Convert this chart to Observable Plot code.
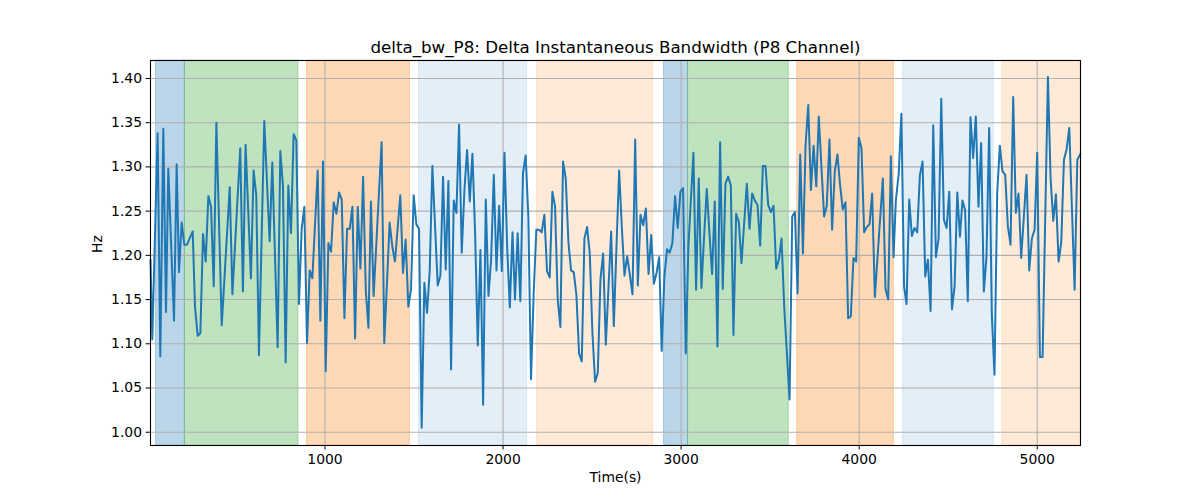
<!DOCTYPE html>
<html>
<head>
<meta charset="utf-8">
<script src="https://cdn.jsdelivr.net/npm/d3@7"></script>
<script src="https://cdn.jsdelivr.net/npm/@observablehq/plot@0.6"></script>
<style>
  body { margin: 0; background: white; }
</style>
</head>
<body>
<div id="chart"></div>
<script>
// ---------- data ----------
const times = [
  20, 30, 60, 75, 92, 107, 120, 152, 167, 180, 195, 210, 225, 257, 270, 285, 300, 315, 330, 345,
  360, 375, 390, 420, 465, 480, 524, 539, 554, 584, 599, 614, 629, 659, 689, 704, 734, 749, 764, 779,
  794, 809, 824, 839, 854, 869, 884, 899, 914, 929, 959, 974, 989, 1004, 1019, 1034, 1049, 1064, 1079, 1094,
  1109, 1124, 1139, 1154, 1169, 1184, 1199, 1214, 1229, 1244, 1258, 1273, 1318, 1333, 1363, 1378, 1393, 1423, 1438, 1453,
  1468, 1483, 1498, 1513, 1528, 1543, 1558, 1573, 1588, 1603, 1633, 1648, 1663, 1678, 1693, 1708, 1723, 1738, 1753, 1768,
  1783, 1798, 1813, 1828, 1843, 1858, 1873, 1888, 1903, 1918, 1933, 1948, 1963, 1978, 1993, 2008, 2023, 2038, 2053, 2067,
  2082, 2097, 2112, 2127, 2142, 2157, 2172, 2187, 2202, 2217, 2232, 2247, 2262, 2277, 2292, 2307, 2322, 2337, 2352, 2367,
  2382, 2397, 2412, 2427, 2442, 2457, 2472, 2487, 2502, 2517, 2532, 2547, 2562, 2577, 2607, 2622, 2637, 2652, 2667, 2682,
  2697, 2712, 2727, 2742, 2757, 2772, 2787, 2802, 2817, 2832, 2847, 2862, 2877, 2891, 2906, 2921, 2936, 2951, 2966, 2981,
  2996, 3011, 3026, 3041, 3069, 3084, 3099, 3114, 3129, 3144, 3159, 3174, 3189, 3204, 3219, 3234, 3249, 3264, 3279, 3294,
  3309, 3324, 3339, 3369, 3384, 3399, 3414, 3429, 3444, 3459, 3474, 3489, 3504, 3519, 3534, 3549, 3564, 3579, 3609, 3624,
  3639, 3654, 3669, 3684, 3699, 3714, 3729, 3744, 3759, 3773, 3803, 3818, 3833, 3848, 3863, 3878, 3893, 3908, 3923, 3938,
  3953, 3968, 3983, 3998, 4013, 4028, 4043, 4058, 4073, 4088, 4133, 4148, 4163, 4178, 4193, 4206, 4222, 4237, 4252, 4266,
  4281, 4296, 4311, 4326, 4341, 4356, 4371, 4386, 4401, 4416, 4431, 4446, 4461, 4476, 4491, 4506, 4521, 4536, 4551, 4566,
  4580, 4595, 4610, 4625, 4640, 4655, 4670, 4685, 4700, 4715, 4730, 4745, 4760, 4775, 4790, 4805, 4820, 4835, 4850, 4865,
  4880, 4895, 4910, 4940, 4955, 4970, 4985, 5000, 5015, 5030, 5060, 5075, 5090, 5105, 5120, 5135, 5150, 5165, 5180, 5210,
  5225, 5243
];
const values = [
  1.195, 1.105, 1.338, 1.086, 1.343, 1.136, 1.298, 1.126, 1.303, 1.181, 1.237, 1.212, 1.212, 1.227, 1.142, 1.109, 1.112, 1.224, 1.193, 1.267,
  1.255, 1.165, 1.350, 1.121, 1.277, 1.156, 1.321, 1.159, 1.325, 1.174, 1.296, 1.268, 1.087, 1.352, 1.216, 1.305, 1.096, 1.318, 1.278, 1.079,
  1.279, 1.225, 1.337, 1.330, 1.145, 1.230, 1.255, 1.101, 1.183, 1.174, 1.296, 1.126, 1.306, 1.069, 1.214, 1.204, 1.260, 1.247, 1.271, 1.263,
  1.129, 1.230, 1.230, 1.255, 1.106, 1.255, 1.185, 1.289, 1.161, 1.118, 1.261, 1.154, 1.328, 1.101, 1.237, 1.210, 1.193, 1.268, 1.180, 1.218,
  1.142, 1.161, 1.268, 1.235, 1.230, 1.005, 1.169, 1.135, 1.182, 1.301, 1.166, 1.177, 1.289, 1.184, 1.284, 1.071, 1.262, 1.248, 1.348, 1.203,
  1.274, 1.319, 1.261, 1.315, 1.225, 1.098, 1.206, 1.031, 1.263, 1.154, 1.195, 1.291, 1.183, 1.256, 1.182, 1.316, 1.210, 1.141, 1.226, 1.150,
  1.225, 1.148, 1.293, 1.313, 1.244, 1.060, 1.157, 1.229, 1.229, 1.226, 1.246, 1.182, 1.175, 1.272, 1.255, 1.150, 1.119, 1.306, 1.287, 1.215,
  1.183, 1.181, 1.155, 1.089, 1.080, 1.219, 1.232, 1.202, 1.112, 1.057, 1.067, 1.173, 1.202, 1.099, 1.227, 1.120, 1.210, 1.296, 1.232, 1.177,
  1.199, 1.178, 1.156, 1.331, 1.166, 1.246, 1.234, 1.253, 1.179, 1.223, 1.168, 1.180, 1.198, 1.092, 1.176, 1.207, 1.203, 1.214, 1.267, 1.231,
  1.272, 1.276, 1.089, 1.210, 1.316, 1.161, 1.287, 1.163, 1.221, 1.275, 1.225, 1.179, 1.261, 1.097, 1.328, 1.162, 1.281, 1.289, 1.279, 1.110,
  1.247, 1.238, 1.191, 1.281, 1.230, 1.270, 1.262, 1.257, 1.211, 1.301, 1.301, 1.257, 1.249, 1.256, 1.185, 1.195, 1.219, 1.142, 1.037, 1.244,
  1.249, 1.157, 1.314, 1.202, 1.325, 1.370, 1.274, 1.324, 1.278, 1.357, 1.244, 1.256, 1.331, 1.229, 1.295, 1.314, 1.279, 1.252, 1.260, 1.129,
  1.131, 1.197, 1.193, 1.333, 1.321, 1.226, 1.232, 1.235, 1.270, 1.153, 1.287, 1.162, 1.150, 1.312, 1.198, 1.262, 1.292, 1.360, 1.165, 1.145,
  1.263, 1.222, 1.231, 1.226, 1.291, 1.306, 1.176, 1.195, 1.137, 1.347, 1.198, 1.219, 1.377, 1.240, 1.231, 1.272, 1.139, 1.165, 1.271, 1.221,
  1.262, 1.251, 1.148, 1.356, 1.310, 1.357, 1.255, 1.327, 1.159, 1.198, 1.344, 1.133, 1.065, 1.270, 1.324, 1.295, 1.291, 1.233, 1.212, 1.379,
  1.248, 1.270, 1.197, 1.291, 1.183, 1.219, 1.229, 1.316, 1.085, 1.085, 1.402, 1.287, 1.239, 1.269, 1.193, 1.215, 1.308, 1.320, 1.344, 1.161,
  1.308, 1.315
];

// shaded segments (axvspan-style)
const spanStart = [51, 213, 899, 1528, 2191, 2904, 3039, 3652, 4247, 4803];
const spanEnd   = [213, 851, 1477, 2135, 2843, 3039, 3605, 4195, 4756, 5243];
const spanColor = ["#1f77b4", "#2ca02c", "#ff7f0e", "#1f77b4", "#ff7f0e",
                   "#1f77b4", "#2ca02c", "#ff7f0e", "#1f77b4", "#ff7f0e"];
const spanAlpha = [0.3, 0.3, 0.3, 0.12, 0.16, 0.3, 0.3, 0.3, 0.12, 0.16];

const xTicks = [1000, 2000, 3000, 4000, 5000];
const yTicks = [1.00, 1.05, 1.10, 1.15, 1.20, 1.25, 1.30, 1.35, 1.40];

const series = times.map((t, i) => ({t, v: values[i]}));
const spans = spanStart.map((s, i) => ({x1: s, x2: spanEnd[i], c: spanColor[i], a: spanAlpha[i]}));

const grid = {stroke: "#b0b0b0", strokeOpacity: 1, strokeWidth: 1.1};

const chart = Plot.plot({
  width: 1200, height: 500,
  marginLeft: 150, marginRight: 120, marginTop: 60, marginBottom: 55,
  style: {fontFamily: "DejaVu Sans", fontSize: "13.9px", background: "white", color: "black"},
  x: {domain: [20, 5243]},
  y: {domain: [0.985, 1.4203]},
  opacity: {type: "identity"},
  marks: [
    Plot.rect(spans, {x1: "x1", x2: "x2", fill: "c", fillOpacity: "a", stroke: "c", strokeOpacity: "a", strokeWidth: 1}),
    Plot.gridX(xTicks, grid),
    Plot.gridY(yTicks, grid),
    Plot.line(series, {x: "t", y: "v", stroke: "#1f77b4", strokeWidth: 2}),
    Plot.frame({stroke: "black", strokeWidth: 1.1}),
    Plot.axisX(xTicks, {tickSize: 4.5, tickPadding: 4, label: null, fontSize: 13.9, tickFormat: d3.format("d")}),
    Plot.axisY(yTicks, {tickSize: 4.5, tickPadding: 4, label: null, fontSize: 13.9, tickFormat: d3.format(".2f")}),
    Plot.text(["delta_bw_P8: Delta Instantaneous Bandwidth (P8 Channel)"], {
      frameAnchor: "top", dy: -19, text: d => d, fontSize: 16.7
    }),
    Plot.text(["Time(s)"], {frameAnchor: "bottom", dy: 36, text: d => d, fontSize: 13.9}),
    Plot.text(["Hz"], {frameAnchor: "left", dx: -53, rotate: -90, text: d => d, fontSize: 13.9})
  ]
});
document.getElementById("chart").appendChild(chart);
</script>
</body>
</html>
